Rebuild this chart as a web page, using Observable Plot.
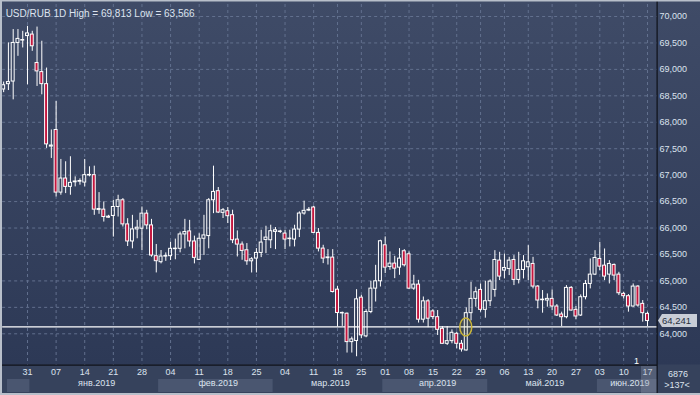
<!DOCTYPE html>
<html><head><meta charset="utf-8">
<script src="https://cdn.jsdelivr.net/npm/d3@7"></script>
<script src="https://cdn.jsdelivr.net/npm/@observablehq/plot@0.6"></script>
<style>
html,body{margin:0;padding:0;background:#2f3b55;}
#chart{width:700px;height:395px;overflow:hidden;}
svg{display:block}
</style></head><body><div id="chart"></div>
<script>
// ---- data (USD/RUB daily candles, index 0..135) ----
const open  = [68.620,68.720,68.770,69.500,69.545,69.630,69.658,69.120,68.949,68.721,67.540,67.854,66.670,66.936,66.778,66.865,66.875,66.860,66.995,67.000,66.340,66.348,66.215,66.227,66.398,66.525,66.069,65.746,65.974,65.987,66.272,66.050,65.468,65.354,65.460,65.468,65.600,65.607,65.879,65.936,65.746,65.398,65.797,65.848,66.525,66.697,66.287,66.318,66.243,65.782,65.687,65.580,65.371,65.422,65.529,65.775,65.769,65.927,65.925,65.895,65.800,65.782,65.971,66.274,66.330,66.388,65.908,65.611,65.430,65.441,64.835,64.385,64.380,63.843,63.863,64.683,63.951,64.412,64.854,64.993,65.674,65.264,65.327,65.251,65.561,65.504,64.854,64.930,64.267,64.614,64.424,64.314,64.094,63.811,63.861,64.000,63.811,63.685,64.390,64.660,64.830,64.453,64.616,64.830,65.384,65.195,65.226,65.396,65.019,65.207,65.258,65.321,64.893,64.635,64.629,64.660,64.516,64.365,64.314,64.868,64.453,64.346,64.692,64.943,65.119,65.415,65.289,65.119,65.302,65.119,64.755,64.711,64.516,64.893,64.566,64.377];
const high  = [68.760,69.500,69.753,69.753,69.720,69.813,69.720,69.800,69.532,69.025,67.854,68.392,67.297,67.253,67.348,66.968,66.930,67.297,67.158,67.170,66.670,66.493,66.240,66.525,66.620,66.557,66.177,66.240,66.145,66.398,66.335,66.164,65.689,65.575,65.530,65.733,65.790,65.924,66.164,66.145,65.847,65.892,66.240,66.557,67.170,66.766,66.369,66.388,66.337,65.946,65.737,65.706,65.441,65.611,65.958,66.034,66.053,66.009,65.958,65.958,65.958,66.053,66.306,66.508,66.388,66.413,65.990,65.674,65.592,65.592,64.898,64.410,64.393,63.938,64.835,64.727,64.456,64.993,65.295,65.769,65.832,65.548,65.466,65.611,65.592,65.548,65.106,65.011,64.696,64.646,64.456,64.440,64.138,64.138,64.075,64.031,63.874,64.490,64.975,64.880,64.943,64.994,65.019,65.572,65.541,65.509,65.446,65.478,65.541,65.478,65.667,65.446,64.912,64.818,64.754,64.830,64.553,64.409,64.912,64.893,64.516,64.736,65.006,65.415,65.572,65.730,65.604,65.384,65.321,65.163,64.786,64.742,64.943,64.912,64.629,64.409];
const low   = [68.560,68.600,68.424,69.247,69.405,68.709,69.342,68.677,68.519,67.506,67.316,66.588,66.620,66.651,66.620,66.778,66.810,66.778,66.968,66.240,66.260,66.113,66.180,65.829,66.208,66.019,65.651,65.607,65.797,65.575,65.968,65.449,65.151,65.322,65.370,65.386,65.400,65.531,65.607,65.639,65.322,65.386,65.480,65.607,66.272,66.274,66.180,66.085,65.706,65.453,65.390,65.295,65.150,65.150,65.441,65.516,65.611,65.592,65.895,65.592,65.643,65.643,65.820,66.243,66.310,65.895,65.548,65.327,65.300,64.772,64.128,64.140,63.636,63.636,63.566,63.907,63.926,64.380,64.601,64.885,65.138,65.201,65.043,65.106,65.264,64.835,64.822,64.203,64.203,64.115,64.266,63.968,63.798,63.780,63.811,63.717,63.654,63.673,64.245,64.503,64.408,64.295,64.516,64.692,65.006,65.038,65.101,64.912,64.943,65.038,65.006,64.849,64.472,64.390,64.503,64.440,64.327,64.138,64.283,64.428,64.264,64.327,64.642,64.849,65.101,65.195,65.006,64.943,65.006,64.723,64.660,64.409,64.503,64.503,64.220,64.138];
const close = [68.700,68.760,69.500,69.576,69.555,69.680,69.437,68.962,68.721,67.582,67.560,66.670,66.936,66.778,66.854,66.880,66.890,67.000,67.005,66.348,66.360,66.208,66.195,66.398,66.525,66.069,65.746,65.974,66.006,66.272,66.050,65.480,65.373,65.461,65.470,65.607,65.610,65.879,65.924,65.746,65.436,65.797,65.860,66.525,66.683,66.293,66.337,66.224,65.769,65.687,65.567,65.371,65.409,65.529,65.725,65.819,65.940,65.958,65.935,65.782,65.790,65.971,66.274,66.325,66.345,65.908,65.611,65.422,65.445,64.790,64.393,64.395,63.843,63.894,64.652,63.970,64.412,64.854,64.993,65.750,65.251,65.327,65.232,65.422,65.296,64.854,64.930,64.267,64.614,64.285,64.316,64.075,63.811,63.861,64.019,63.811,63.704,64.390,64.660,64.786,64.453,64.616,64.987,65.396,65.082,65.245,65.384,65.019,65.207,65.371,65.352,64.893,64.629,64.646,64.660,64.516,64.346,64.314,64.868,64.440,64.327,64.692,64.943,65.119,65.434,65.270,65.082,65.321,65.101,64.767,64.711,64.516,64.893,64.535,64.390,64.241];

// weekly tick labels (candle index -> day of month)
const tickIndex  = [5,11,17,23,29,35,41,47,53,59,65,70,75,80,85,90,95,100,105,110,115,120,125,130,135];
const tickLabels = ["31","07","14","21","28","04","11","18","25","04","11","18","25","01","08","15","22","29","06","13","20","27","03","10","17"];
// month bands (candle index boundaries)
const monthLabels = ["", "янв.2019","фев.2019","мар.2019","апр.2019","май.2019","июн.2019"];
const monthStart  = [0.8, 5.5, 32.5, 56.5, 79.5, 101.5, 124.5];
const monthEnd    = [5.5, 32.5, 56.5, 79.5, 101.5, 124.5, 137.1];
const monthShaded = [true, false, true, false, true, false, true];
// price axis
const priceTicks = [64, 64.5, 65, 65.5, 66, 66.5, 67, 67.5, 68, 68.5, 69, 69.5, 70];
const title = "USD/RUB 1D High = 69,813 Low = 63,566";
const lastPrice = 64.241;
const levelLine = [64.132];
const marker = {k: 97, price: 64.118};
const infoTop = "6876", infoBottom = ">137<";

const fmt = v => d3.format(".3f")(v).replace(".", ",");
const candles = open.map((o, k) => ({k, o, h: high[k], l: low[k], c: close[k]}));
const RED = "#c4163e", TXT = "#dce3ee", GRID = "#62708e";

const plot = Plot.plot({
  width: 700, height: 395,
  marginLeft: 3.15, marginRight: 53, marginTop: 16, marginBottom: 61.7,
  x: {type: "linear", domain: [0, 135], axis: null},
  y: {domain: [64, 70], axis: null},
  style: {
    fontFamily: "'Liberation Sans', Arial, sans-serif", fontSize: "9px", color: TXT,
    background: "linear-gradient(to bottom, #3f4b67 0px, #2d3956 364px, #36425c 365px, #36425c 395px)"
  },
  marks: [
    // shaded month bands
    Plot.rect(monthLabels.map((m, i) => i).filter(i => monthShaded[i]), {
      x1: i => monthStart[i], x2: i => monthEnd[i], fill: "#4a5670",
      insetTop: 363, insetBottom: -58.7
    }),
    // grid
    Plot.ruleX(tickIndex, {x: d => d, stroke: GRID, strokeDasharray: "3,3", insetTop: -12, insetBottom: -31.7}),
    Plot.ruleY(priceTicks, {y: d => d, stroke: GRID, strokeDasharray: "3,3", insetRight: -10, insetLeft: -1}),
    // horizontal level line
    Plot.ruleY(levelLine, {y: d => d, stroke: "white", strokeWidth: 1.3, insetRight: -10, insetLeft: -1}),
    // wicks
    Plot.ruleX(candles, {x: "k", y1: "h", y2: d => Math.max(d.o, d.c), stroke: "white", strokeWidth: 1}),
    Plot.ruleX(candles, {x: "k", y1: "l", y2: d => Math.min(d.o, d.c), stroke: "white", strokeWidth: 1}),
    // bodies
    Plot.rect(candles, {
      x1: d => d.k - 0.31, x2: d => d.k + 0.31, y1: "o", y2: "c",
      fill: d => d.c < d.o ? RED : "none", stroke: "white", strokeWidth: 1
    }),
    // title
    Plot.text([title], {frameAnchor: "top-left", dx: 2, dy: -7, textAnchor: "start", fontSize: 10, fill: TXT}),
    // price labels
    Plot.text(priceTicks, {y: d => d, text: fmt, frameAnchor: "right", dx: 12, textAnchor: "start", fill: TXT}),
    // day labels
    Plot.text(tickIndex, {x: d => d, text: (d, i) => tickLabels[i], frameAnchor: "bottom", dy: 40.7, fill: TXT}),
    // month labels
    Plot.text(monthLabels.map((m, i) => i).filter(i => monthLabels[i]), {
      x: i => (monthStart[i] + monthEnd[i]) / 2 + 0.5, text: i => monthLabels[i],
      frameAnchor: "bottom", dy: 52, fill: TXT
    })
  ]
});
document.getElementById("chart").appendChild(plot);

// ---- chrome drawn with the plot's scales ----
const svg = d3.select(plot);
const X = v => plot.scale("x").apply(v), Y = v => plot.scale("y").apply(v);
// event marker ellipse
svg.append("ellipse").attr("cx", X(marker.k)).attr("cy", Y(marker.price)).attr("rx", 6).attr("ry", 9)
  .attr("fill", "rgba(200,180,60,0.12)").attr("stroke", "#c9b43a").attr("stroke-width", 1.5);
// flag "1"
svg.append("text").attr("x", X(132.8)).attr("y", 364).attr("fill", "white").attr("font-size", 9)
  .attr("text-anchor", "middle").text("1");
// separators
svg.append("rect").attr("x", 0).attr("y", 364.5).attr("width", 657).attr("height", 1.2).attr("fill", "#0e1118");
svg.append("rect").attr("x", 656.5).attr("y", 0).attr("width", 1.2).attr("height", 395).attr("fill", "#0e1118");
// current-day highlight
svg.append("rect").attr("x", 641).attr("y", 366).attr("width", 15.5).attr("height", 27).attr("fill", "rgba(140,150,170,0.35)");
// last price tag
const ly = Y(lastPrice);
svg.append("path").attr("d", `M658,${ly} L662,${ly-6.5} L697,${ly-6.5} L697,${ly+6.5} L662,${ly+6.5} Z`)
  .attr("fill", "#c9ced7");
svg.append("text").attr("x", 662).attr("y", ly).attr("dy", "0.32em").attr("text-anchor", "start")
  .attr("fill", "#27303f").attr("font-size", 9.5).text(fmt(lastPrice));
// info box
svg.append("text").attr("x", 678).attr("y", 374).attr("dy", "0.32em").attr("text-anchor", "middle").attr("fill", TXT).text(infoTop);
svg.append("text").attr("x", 677).attr("y", 385).attr("dy", "0.32em").attr("text-anchor", "middle").attr("fill", TXT).text(infoBottom);
// window border
svg.append("rect").attr("x", 0).attr("y", 0).attr("width", 700).attr("height", 1.5).attr("fill", "#b8bfca");
svg.append("rect").attr("x", 0).attr("y", 0).attr("width", 2).attr("height", 395).attr("fill", "#b8bfca");
svg.append("rect").attr("x", 0).attr("y", 393).attr("width", 700).attr("height", 2).attr("fill", "#b8bfca");
</script></body></html>
